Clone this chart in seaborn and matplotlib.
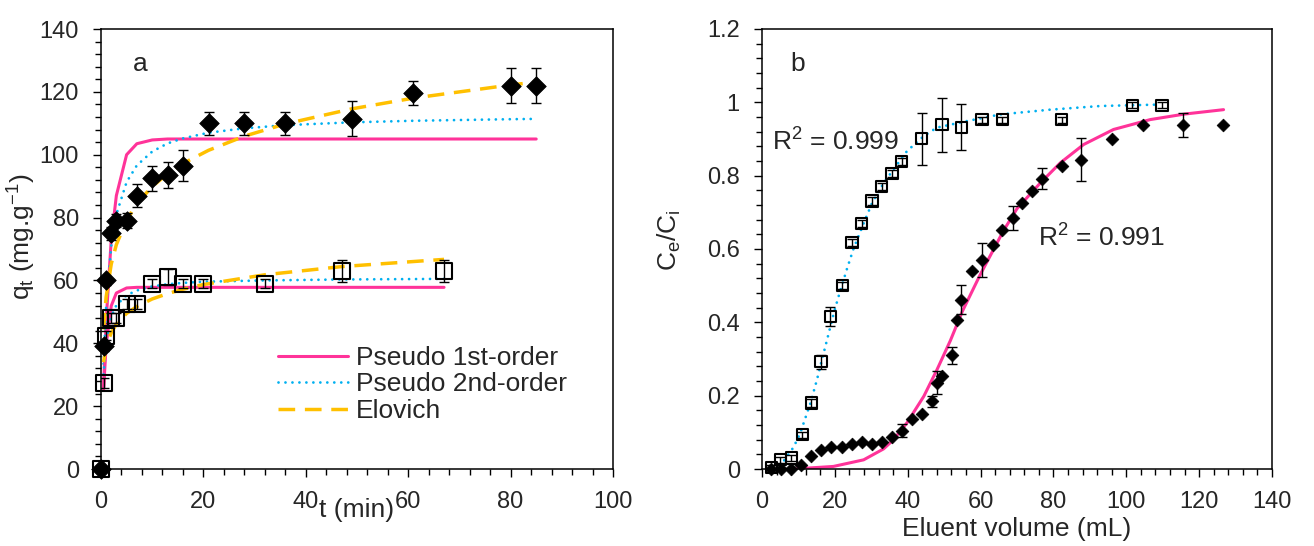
import matplotlib
matplotlib.use("Agg")
import matplotlib.pyplot as plt
from matplotlib.ticker import MultipleLocator, AutoMinorLocator
import numpy as np
import pandas as pd
import seaborn as sns

# ---------------- (a) adsorption kinetics ----------------
t_high = [0, 0.5, 1, 2, 3, 5, 7, 10, 13, 16, 21, 28, 36, 49, 61, 80, 85]
q_high = [0, 39, 60, 75, 79, 79, 87, 92.5, 93.5, 96.5, 110, 110, 110, 111.5, 119.5, 122, 122]
q_high_err = [0, 1.5, 1.5, 2, 2, 2.4, 3.7, 4, 4.2, 4.9, 3.6, 3.6, 3.6, 5.5, 3.8, 5.6, 5.6]

t_low = [0, 0.5, 1, 2, 3, 5, 7, 10, 13, 16, 20, 32, 47, 67]
q_low = [0, 27.4, 42.4, 48, 48, 52.5, 52.5, 59, 61, 59, 59, 59, 63, 63]
q_low_err = [0, 1.5, 1.5, 1.5, 1.5, 1.5, 1.5, 1.5, 2.5, 1.5, 1.5, 1.5, 3.6, 3.6]

t_fit_high = [0.5, 1, 2, 3, 5, 7, 10, 13, 16, 21, 28, 36, 49, 61, 80, 85]
pfo_high = [26, 47, 73, 87, 100, 103.5, 104.7, 105, 105, 105, 105, 105, 105, 105, 105, 105]
pso_high = [33.5, 51.4, 71, 81, 91.3, 96.6, 101, 103.6, 105.2, 107, 108.4, 109.4, 110.3, 110.8, 111.3, 111.4]
elo_high = [44.4, 54.7, 65.2, 71.4, 79.2, 84.4, 89.9, 93.9, 97.2, 101.4, 105.9, 109.8, 114.6, 118.0, 122.2, 123.1]

t_fit_low = [0.5, 1, 2, 3, 5, 7, 10, 13, 16, 20, 32, 47, 67]
pfo_low = [25.1, 39.3, 51.9, 56, 57.6, 57.8, 57.8, 57.8, 57.8, 57.8, 57.8, 57.8, 57.8]
pso_low = [30.1, 40.3, 48.6, 52.1, 55.3, 56.8, 58.1, 58.8, 59.2, 59.6, 60.0, 60.3, 60.5]
elo_low = [34, 38.8, 43.4, 46.1, 49.5, 51.7, 54.1, 55.8, 57.2, 58.7, 61.8, 64.4, 66.7]

# ---------------- (b) breakthrough curves ----------------
v_sq = [2.5, 5, 8, 11, 13.5, 16.2, 18.7, 22, 24.7, 27.4, 30.2, 32.9, 35.7, 38.4,
        43.9, 49.4, 54.7, 60.4, 65.9, 82.3, 101.7, 109.8]
c_sq = [0.003, 0.025, 0.03, 0.093, 0.18, 0.292, 0.416, 0.50, 0.617, 0.669, 0.731, 0.771,
        0.805, 0.839, 0.901, 0.939, 0.932, 0.953, 0.953, 0.953, 0.992, 0.992]
c_sq_err = [0.008, 0.008, 0.008, 0.008, 0.01, 0.019, 0.027, 0.01, 0.01, 0.01, 0.01, 0.01,
            0.01, 0.01, 0.071, 0.074, 0.063, 0.008, 0.008, 0.008, 0.008, 0.008]

v_dm = [2.5, 5.2, 8, 10.7, 13.5, 16.3, 19, 22, 24.7, 27.4, 30.2, 32.9, 35.7, 38.4, 41.2,
        43.9, 46.7, 48, 49.4, 52.2, 53.5, 54.7, 57.6, 60.4, 63.3, 66, 68.8, 71.5, 74.1,
        76.9, 82.3, 87.6, 96.2, 104.5, 115.5, 126.5]
c_dm = [0, 0, 0, 0.012, 0.036, 0.051, 0.06, 0.06, 0.068, 0.075, 0.068, 0.075, 0.087, 0.105,
        0.137, 0.151, 0.185, 0.235, 0.255, 0.31, 0.406, 0.462, 0.539, 0.571, 0.612, 0.653,
        0.685, 0.726, 0.758, 0.792, 0.826, 0.844, 0.9, 0.939, 0.939, 0.939]
c_dm_err = [0, 0, 0, 0, 0, 0, 0, 0, 0, 0, 0, 0, 0, 0.019, 0, 0, 0.015, 0.031, 0, 0.023,
            0, 0.039, 0, 0.046, 0, 0, 0.033, 0, 0, 0.029, 0, 0.059, 0, 0, 0.033, 0]

v_fit_sq = [4.6, 5.9, 8.7, 10.5, 11.9, 13.3, 15.1, 16.5, 17.8, 19.7, 21, 23.3, 25.1, 27.9,
            30.2, 33.4, 36.1, 39.8, 44.4, 48, 56.3, 65.4, 79.1, 92.9, 109.3]
c_fit_sq = [0.012, 0.021, 0.06, 0.098, 0.139, 0.18, 0.244, 0.3, 0.35, 0.425, 0.47, 0.545,
            0.6, 0.67, 0.725, 0.78, 0.817, 0.867, 0.908, 0.931, 0.949, 0.967, 0.98, 0.99, 0.994]

v_fit_dm = [8.6, 19.6, 27.9, 33.4, 36.1, 39.8, 44.4, 48, 51.7, 55, 59.9, 66.3, 70, 76.4,
            81.9, 88.3, 96.5, 106.6, 116, 126.7]
c_fit_dm = [0, 0.007, 0.025, 0.055, 0.08, 0.126, 0.198, 0.27, 0.35, 0.43, 0.53, 0.65, 0.71,
            0.78, 0.835, 0.885, 0.926, 0.953, 0.968, 0.98]

PINK = "#FF3399"
BLUE = "#00B0F0"
GOLD = "#FFC000"
FS_TICK = 17
FS_TEXT = 19

sns.set_style("ticks")
plt.rcParams["font.family"] = ["Liberation Sans", "DejaVu Sans"]
plt.rcParams["mathtext.fontset"] = "custom"
plt.rcParams["mathtext.rm"] = "Liberation Sans"
plt.rcParams["mathtext.it"] = "Liberation Sans"

fig = plt.figure(figsize=(13.14, 5.46), dpi=100)
ax_a = fig.add_axes([101 / 1314, 77 / 546, 512 / 1314, 440 / 546])
ax_b = fig.add_axes([762 / 1314, 77 / 546, 510 / 1314, 440 / 546])

dotted = dict(linestyle=(0, (0.01, 2.5)), dash_capstyle="round", linewidth=2.0)
dashed = dict(linestyle=(0, (4.8, 2.8)), linewidth=2.5)


def fit_line(ax, x, y, color, **kw):
    df = pd.DataFrame({"x": x, "y": y})
    sns.lineplot(data=df, x="x", y="y", ax=ax, color=color,
                 sort=False, estimator=None, legend=False, zorder=2, **kw)


def markers(ax, x, y, err, marker, size, filled, capsize=3.6):
    df = pd.DataFrame({"x": x, "y": y})
    ax.errorbar(x, y, yerr=err, fmt="none", ecolor="black", elinewidth=1.0,
                capsize=capsize, capthick=1.0, zorder=3)
    if filled:
        pts = sns.scatterplot(data=df, x="x", y="y", ax=ax, marker=marker, s=size ** 2,
                              color="black", edgecolor="black", linewidth=0.5, zorder=4,
                              legend=False)
    else:
        pts = sns.scatterplot(data=df, x="x", y="y", ax=ax, marker=marker, s=size ** 2,
                              facecolor="none", edgecolor="black", linewidth=1.5, zorder=4,
                              legend=False)
    pts.collections[-1].set_clip_on(False)


# ---- panel a ----
fit_line(ax_a, t_fit_high, pfo_high, PINK, linewidth=2.2)
fit_line(ax_a, t_fit_high, pso_high, BLUE, **dotted)
fit_line(ax_a, t_fit_high, elo_high, GOLD, **dashed)
fit_line(ax_a, t_fit_low, pfo_low, PINK, linewidth=2.2)
fit_line(ax_a, t_fit_low, pso_low, BLUE, **dotted)
fit_line(ax_a, t_fit_low, elo_low, GOLD, **dashed)
markers(ax_a, t_low, q_low, q_low_err, "s", 11.5, False)
markers(ax_a, t_high, q_high, q_high_err, "D", 10.0, True)

handles = [
    plt.Line2D([], [], color=PINK, linewidth=2.2),
    plt.Line2D([], [], color=BLUE, **dotted),
    plt.Line2D([], [], color=GOLD, **dashed),
]
ax_a.legend(handles, ["Pseudo 1st-order", "Pseudo 2nd-order", "Elovich"],
            loc="upper left", bbox_to_anchor=(0.346, 0.28), frameon=False,
            fontsize=FS_TEXT, borderpad=0, borderaxespad=0, labelspacing=0.1,
            handlelength=2.65, handletextpad=0.3)

ax_a.set_xlim(0, 100)
ax_a.set_ylim(0, 140)
ax_a.xaxis.set_major_locator(MultipleLocator(20))
ax_a.yaxis.set_major_locator(MultipleLocator(20))
ax_a.set_xlabel("t (min)", fontsize=FS_TEXT)
ax_a.xaxis.set_label_coords(0.5, -0.066)
ax_a.xaxis.label.set_va("top")
ax_a.set_ylabel(r"q$_\mathregular{t}$ (mg.g$^\mathregular{-1}$)", fontsize=FS_TEXT)
ax_a.yaxis.set_label_coords(-0.123, 0.527)
ax_a.text(0.076, 0.92, "a", transform=ax_a.transAxes, fontsize=FS_TEXT,
          ha="center", va="center")

# ---- panel b ----
fit_line(ax_b, v_fit_dm, c_fit_dm, PINK, linewidth=2.2)
fit_line(ax_b, v_fit_sq, c_fit_sq, BLUE, **dotted)
markers(ax_b, v_sq, c_sq, c_sq_err, "s", 8.0, False)
markers(ax_b, v_dm, c_dm, c_dm_err, "D", 6.5, True)

ax_b.set_xlim(0, 140)
ax_b.set_ylim(0, 1.2)
ax_b.xaxis.set_major_locator(MultipleLocator(20))
ax_b.yaxis.set_major_locator(MultipleLocator(0.2))
ax_b.yaxis.set_major_formatter(plt.FuncFormatter(lambda v, p: f"{v:g}"))
ax_b.set_xlabel("Eluent volume (mL)", fontsize=FS_TEXT)
ax_b.xaxis.set_label_coords(0.5, -0.11)
ax_b.xaxis.label.set_va("top")
ax_b.set_ylabel(r"C$_\mathregular{e}$/C$_\mathregular{i}$", fontsize=FS_TEXT)
ax_b.yaxis.set_label_coords(-0.155, 0.52)
ax_b.text(0.069, 0.92, "b", transform=ax_b.transAxes, fontsize=FS_TEXT,
          ha="center", va="center")
ax_b.text(0.019, 0.744, r"R$^\mathregular{2}$ = 0.999", transform=ax_b.transAxes,
          fontsize=FS_TEXT, ha="left", va="center")
ax_b.text(0.542, 0.524, r"R$^\mathregular{2}$ = 0.991", transform=ax_b.transAxes,
          fontsize=FS_TEXT, ha="left", va="center")

for ax in (ax_a, ax_b):
    ax.xaxis.set_minor_locator(AutoMinorLocator(5))
    ax.yaxis.set_minor_locator(AutoMinorLocator(5))
    ax.tick_params(which="major", direction="out", length=6, width=1.0,
                   labelsize=FS_TICK, pad=10, color="black")
    ax.tick_params(which="minor", direction="out", length=4, width=1.0, color="black")
    for sp in ax.spines.values():
        sp.set_visible(True)
        sp.set_linewidth(1.1)
        sp.set_color("black")
    ax.set_facecolor("white")

fig.savefig("out.png", dpi=100, facecolor="white")
